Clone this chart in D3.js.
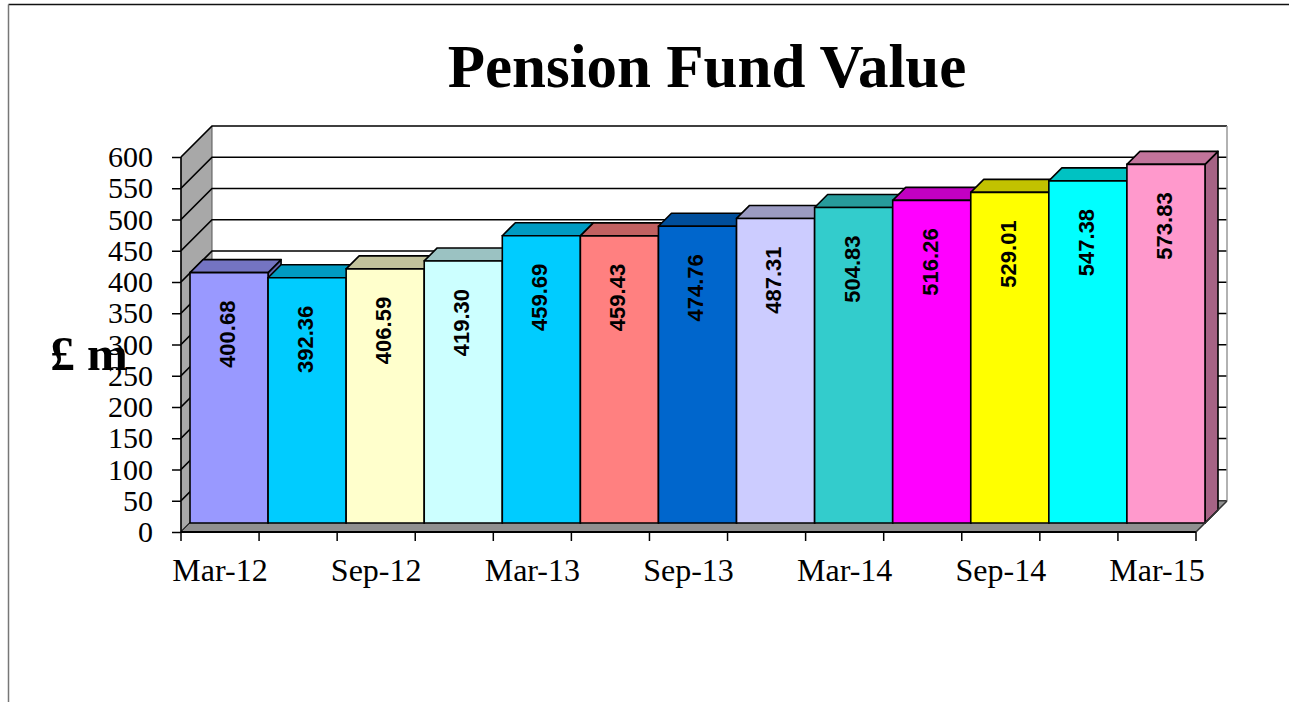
<!DOCTYPE html>
<html>
<head>
<meta charset="utf-8">
<script src="https://cdn.jsdelivr.net/npm/d3@7"></script>
<style>
  body { margin: 0; background: #fff; }
  svg { display: block; }
</style>
</head>
<body>
<div id="chart"></div>
<script>
// quarterly pension fund values (£ m)
const quarters = ["Mar-12", "Jun-12", "Sep-12", "Dec-12", "Mar-13", "Jun-13", "Sep-13",
  "Dec-13", "Mar-14", "Jun-14", "Sep-14", "Dec-14", "Mar-15"];
const fundValues = [400.68, 392.36, 406.59, 419.30, 459.69, 459.43, 474.76,
  487.31, 504.83, 516.26, 529.01, 547.38, 573.83];
const xTickLabels = ["Mar-12", "Sep-12", "Mar-13", "Sep-13", "Mar-14", "Sep-14", "Mar-15"];
const yTicks = [0, 50, 100, 150, 200, 250, 300, 350, 400, 450, 500, 550, 600];

const barColors = ["#9999FF", "#00CCFF", "#FFFFCC", "#CCFFFF", "#00CCFF", "#FF8080", "#0066CC",
  "#CCCCFF", "#33CCCC", "#FF00FF", "#FFFF00", "#00FFFF", "#FF99CC"];

const width = 1289;
const height = 702;
const depth = 31;      // oblique depth of the plot box
const barNear = 9;     // bar front face depth
const barFar = 22;     // bar back face depth
const serif = "'Liberation Serif', 'Times New Roman', serif";
const sans = "'Liberation Sans', Arial, sans-serif";

const svg = d3.select("#chart").append("svg")
  .attr("width", width)
  .attr("height", height);

svg.append("rect").attr("width", width).attr("height", height).attr("fill", "#fff");

// outer chart frame (runs off page on right/bottom)
svg.append("line").attr("x1", 8.5).attr("y1", 4.5).attr("x2", width).attr("y2", 4.5)
  .attr("stroke", "#111").attr("stroke-width", 1.5);
svg.append("line").attr("x1", 8.5).attr("y1", 4.5).attr("x2", 8.5).attr("y2", height)
  .attr("stroke", "#777").attr("stroke-width", 1.5);

const x = d3.scaleBand().domain(quarters).range([181, 1196]).padding(0);
const y = d3.scaleLinear().domain([0, 600]).range([532, 157]);

const P = (px, py, d) => [px + d, py - d];
const poly = pts => "M" + pts.map(p => p.join(",")).join("L") + "Z";

const xL = x.range()[0], xR = x.range()[1];
const yB = y(0), yT = y(600);

const g = svg.append("g");

// back wall
g.append("path")
  .attr("d", poly([P(xL, yT, depth), P(xR, yT, depth), P(xR, yB, depth), P(xL, yB, depth)]))
  .attr("fill", "#fff").attr("stroke", "none");

// side wall
g.append("path")
  .attr("d", poly([[xL, yT], P(xL, yT, depth), P(xL, yB, depth), [xL, yB]]))
  .attr("fill", "#a8a8a8").attr("stroke", "#555").attr("stroke-width", 1);

// gridlines on side + back wall
g.selectAll(".grid").data(yTicks).enter().append("path")
  .attr("class", "grid")
  .attr("d", v => "M" + [xL, y(v)] + "L" + P(xL, y(v), depth) + "L" + P(xR, y(v), depth))
  .attr("fill", "none").attr("stroke", "#000").attr("stroke-width", 1.7);

// back wall right edge
g.append("line")
  .attr("x1", xR + depth).attr("y1", yT - depth).attr("x2", xR + depth).attr("y2", yB - depth)
  .attr("stroke", "#999").attr("stroke-width", 1.5);

// floor
g.append("path")
  .attr("d", poly([[xL, yB], P(xL, yB, depth), P(xR, yB, depth), [xR, yB]]))
  .attr("fill", "#909090").attr("stroke", "#333").attr("stroke-width", 1);

// bars, drawn left to right so each one hides its neighbour's side
const shade = (c, k) => {
  const r = d3.rgb(c);
  return d3.rgb(r.r * k, r.g * k, r.b * k).formatHex();
};

const bars = g.selectAll(".bar").data(fundValues).enter().append("g").attr("class", "bar");

bars.each(function (v, i) {
  const b = d3.select(this);
  const x0 = x(quarters[i]), x1 = x0 + x.bandwidth();
  const yt = y(v), yb = y(0);
  const col = barColors[i];
  b.append("path")
    .attr("d", poly([P(x1, yt, barNear), P(x1, yt, barFar), P(x1, yb, barFar), P(x1, yb, barNear)]))
    .attr("fill", shade(col, 0.65)).attr("stroke", "#000").attr("stroke-width", 1.6)
    .attr("stroke-linejoin", "round");
  b.append("path")
    .attr("d", poly([P(x0, yt, barNear), P(x0, yt, barFar), P(x1, yt, barFar), P(x1, yt, barNear)]))
    .attr("fill", shade(col, 0.76)).attr("stroke", "#000").attr("stroke-width", 1.6)
    .attr("stroke-linejoin", "round");
  b.append("path")
    .attr("d", poly([P(x0, yt, barNear), P(x1, yt, barNear), P(x1, yb, barNear), P(x0, yb, barNear)]))
    .attr("fill", col).attr("stroke", "#000").attr("stroke-width", 1.6);
});

// value labels inside bars
g.selectAll(".val").data(fundValues).enter().append("text")
  .attr("class", "val")
  .attr("transform", (v, i) => {
    const cx = x(quarters[i]) + x.bandwidth() / 2 + barNear - 2;
    return `translate(${cx},${y(v) - barNear + 28}) rotate(-90)`;
  })
  .attr("text-anchor", "end")
  .attr("dy", "0.36em")
  .style("font-family", sans).style("font-weight", "bold").style("font-size", "22px")
  .text(v => v.toFixed(2));

// y axis
g.append("line").attr("x1", xL).attr("y1", yT).attr("x2", xL).attr("y2", yB)
  .attr("stroke", "#000").attr("stroke-width", 1.5);
const yAxis = g.append("g")
  .attr("transform", `translate(${xL},0)`)
  .call(d3.axisLeft(y).tickValues(yTicks).tickSize(9).tickPadding(19).tickFormat(d3.format("d")));
yAxis.select(".domain").remove();
yAxis.selectAll(".tick line").attr("stroke", "#000").attr("stroke-width", 1.5);
yAxis.selectAll(".tick text")
  .style("font-family", serif).style("font-size", "30px").attr("fill", "#000");

// x axis: ticks on band edges, labels every other quarter
g.append("line").attr("x1", xL).attr("y1", yB).attr("x2", xR).attr("y2", yB)
  .attr("stroke", "#000").attr("stroke-width", 2);
g.append("line").attr("x1", xR).attr("y1", yB).attr("x2", xR + depth).attr("y2", yB - depth)
  .attr("stroke", "#333").attr("stroke-width", 1.5);
const edges = quarters.map(q => x(q)).concat([xR]);
g.selectAll(".xtick").data(edges).enter().append("line")
  .attr("class", "xtick")
  .attr("x1", d => d).attr("x2", d => d).attr("y1", yB).attr("y2", yB + 9)
  .attr("stroke", "#000").attr("stroke-width", 1.5);
g.selectAll(".xlab").data(xTickLabels).enter().append("text")
  .attr("class", "xlab")
  .attr("x", d => x(d) + x.bandwidth() / 2)
  .attr("y", 581)
  .attr("text-anchor", "middle")
  .style("font-family", serif).style("font-size", "32px")
  .text(d => d);

// titles
svg.append("text")
  .attr("x", 707).attr("y", 87)
  .attr("text-anchor", "middle")
  .style("font-family", serif).style("font-weight", "bold").style("font-size", "61px")
  .text("Pension Fund Value");

svg.append("text")
  .attr("x", 89).attr("y", 370)
  .attr("text-anchor", "middle")
  .style("font-family", serif).style("font-weight", "bold").style("font-size", "49px")
  .text("£ m");
</script>
</body>
</html>
